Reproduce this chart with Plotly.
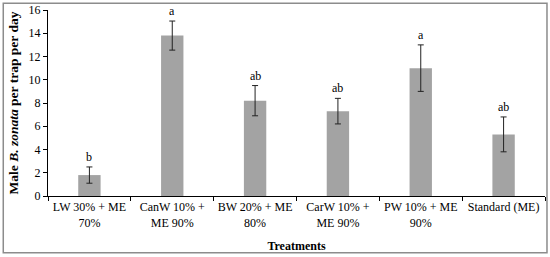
import plotly.graph_objects as go

treatments = ["LW 30% + ME<br>70%", "CanW 10% +<br>ME 90%", "BW 20% + ME<br>80%",
              "CarW 10% +<br>ME 90%", "PW 10% + ME<br>90%", "Standard (ME)"]
means = [1.8, 13.8, 8.2, 7.3, 11.0, 5.3]
errors = [0.7, 1.25, 1.3, 1.1, 2.0, 1.5]
letters = ["b", "a", "ab", "ab", "a", "ab"]

serif = "Liberation Serif"

fig = go.Figure()
fig.add_trace(go.Bar(
    x=treatments, y=means, width=0.27,
    marker=dict(color="#a3a3a3", line=dict(width=0)),
    error_y=dict(type="data", array=errors, color="#222222", thickness=1, width=3),
))

for t, m, e, l in zip(treatments, means, errors, letters):
    fig.add_annotation(x=t, y=m + e, text=l, showarrow=False, yanchor="bottom",
                       yshift=1, font=dict(family=serif, size=12, color="black"))

fig.update_layout(
    width=550, height=257,
    margin=dict(l=48, r=5, t=10, b=61),
    plot_bgcolor="white", paper_bgcolor="white",
    showlegend=False,
    font=dict(family=serif, size=12, color="black"),
)
fig.update_xaxes(
    showline=True, linecolor="black", linewidth=1,
    ticks="outside", tickson="boundaries", ticklen=4, tickcolor="black",
    tickangle=0, automargin=False,
    tickfont=dict(family=serif, size=12),
    title=dict(text="<b>Treatments</b>", font=dict(family=serif, size=12), standoff=12),
)
fig.update_yaxes(
    range=[0, 16], dtick=2, showgrid=False, zeroline=False,
    showline=True, linecolor="black", linewidth=1,
    ticks="outside", ticklen=4, tickcolor="black", automargin=False,
    tickfont=dict(family=serif, size=12),
    title=dict(text="<b>Male <i>B. zonata</i> per trap per day</b>",
               font=dict(family=serif, size=13.5), standoff=6),
)
fig.add_shape(type="rect", xref="paper", yref="paper", layer="above",
              x0=-0.09, x1=1.004, y0=-0.305, y1=1.036,
              line=dict(color="#8c8c8c", width=1.5))

# the page body has a default 8px margin; remove it so the figure fills the window
fig.write_html("out.html", config={"displayModeBar": False},
               post_script="document.body.style.margin='0';")
